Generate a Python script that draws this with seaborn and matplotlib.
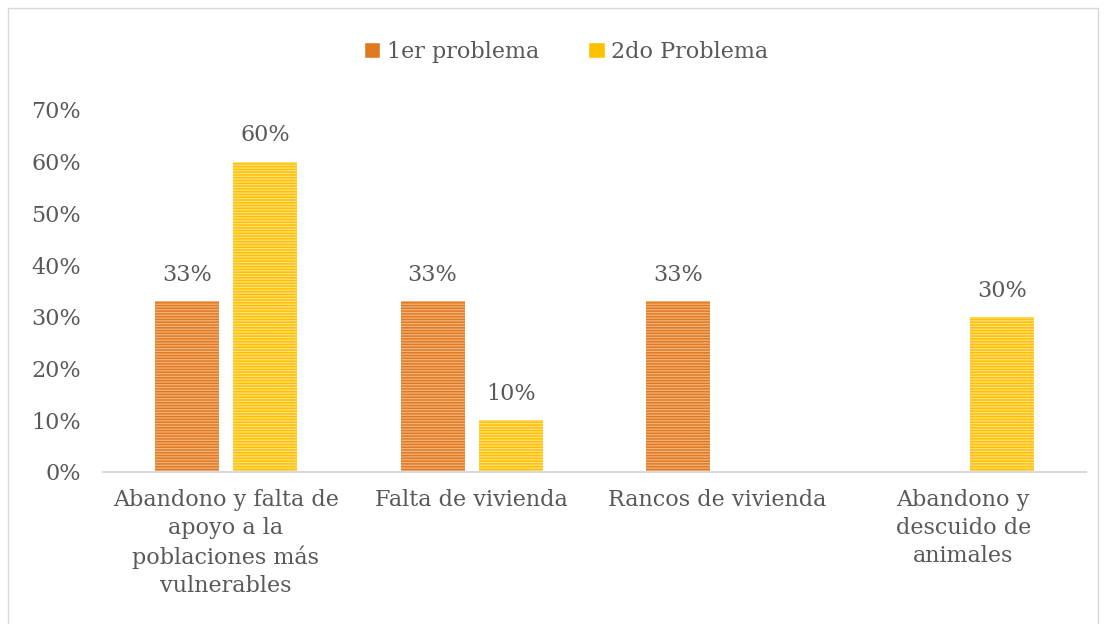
import matplotlib
matplotlib.use("Agg")
import matplotlib.pyplot as plt
import seaborn as sns
import pandas as pd
import numpy as np
from matplotlib.patches import Rectangle

categories = ["Abandono y falta de\napoyo a la\npoblaciones más\nvulnerables",
              "Falta de vivienda", "Rancos de vivienda",
              "Abandono y\ndescuido de\nanimales"]
series = ["1er problema", "2do Problema"]
primero = [0.33, 0.33, 0.33, np.nan]
segundo = [0.60, 0.10, np.nan, 0.30]
yticks = [0, 0.1, 0.2, 0.3, 0.4, 0.5, 0.6, 0.7]

colors = ["#E07A22", "#FFC000"]
hatch_colors = ["#F3B27A", "#FFE07F"]
text_color = "#595959"

sns.set_theme(style="white")
plt.rcParams["font.family"] = ["DejaVu Serif"]
plt.rcParams["hatch.linewidth"] = 0.9

df = pd.DataFrame({
    "cat": categories * 2,
    "serie": [series[0]] * 4 + [series[1]] * 4,
    "val": primero + segundo,
})

fig = plt.figure(figsize=(11.07, 6.24), dpi=100)
ax = fig.add_axes([103 / 1107, 1 - 472 / 624, 983 / 1107, 362 / 624])
sns.barplot(data=df, x="cat", y="val", hue="serie", order=categories,
            hue_order=series, palette=colors, saturation=1, width=0.635, gap=0.18,
            ax=ax, legend=True)

for container, hc in zip(ax.containers, hatch_colors):
    for bar in container:
        bar.set_hatch("------")
        bar.set_edgecolor(hc)
        bar.set_linewidth(0)
    labels = [f"{v*100:.0f}%" if not np.isnan(v) else "" for v in container.datavalues]
    ax.bar_label(container, labels=labels, padding=11, fontsize=16, color=text_color)

ax.set_ylim(0, 0.7)
ax.set_yticks(yticks)
ax.set_yticklabels([f"{int(round(t*100))}%" for t in yticks], fontsize=16, color=text_color)
ax.tick_params(axis="x", labelsize=16, labelcolor=text_color, length=0, pad=12)
ax.tick_params(axis="y", length=0, pad=16)
for lbl in ax.get_xticklabels():
    lbl.set_linespacing(1.35)
ax.set_xlabel("")
ax.set_ylabel("")
for s in ["top", "right", "left"]:
    ax.spines[s].set_visible(False)
ax.spines["bottom"].set_color("#D9D9D9")
ax.spines["bottom"].set_linewidth(1.5)
ax.grid(False)
ax.set_xlim(-0.5, 3.5)

handles, labs = ax.get_legend_handles_labels()
ax.legend_.remove()
leg = fig.legend(handles, labs, loc="center", bbox_to_anchor=(566 / 1107, 1 - 52 / 624),
                 ncol=2, frameon=False, fontsize=16, handlelength=0.75,
                 handleheight=0.75, columnspacing=2.2, handletextpad=0.3)
for t in leg.get_texts():
    t.set_color(text_color)

fig.patches.append(Rectangle((8 / 1107, -0.01), 1090 / 1107, 1 - 8 / 624 + 0.01,
                             transform=fig.transFigure, fill=False,
                             edgecolor="#D9D9D9", linewidth=1))

fig.savefig("out.png", dpi=100)
